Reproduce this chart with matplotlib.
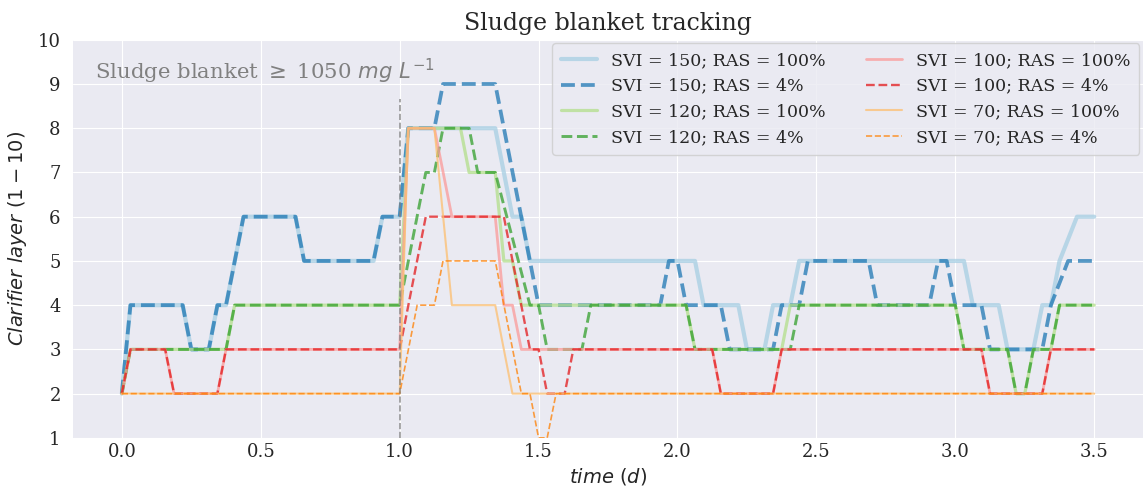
import matplotlib
matplotlib.use("Agg")
import matplotlib.pyplot as plt

# ─── Data (breakpoints, time in days) ───────────────────────────────────────

t_150_100 = [0.0, 0.031, 0.219, 0.25, 0.313, 0.344, 0.375, 0.438, 0.625, 0.656,
             0.906, 0.938, 1.0, 1.031, 1.344, 1.375, 1.406, 1.438, 1.469, 2.063,
             2.094, 2.219, 2.25, 2.313, 2.344, 2.406, 2.438, 3.031, 3.063, 3.156,
             3.188, 3.281, 3.313, 3.344, 3.375, 3.438, 3.5]
v_150_100 = [2, 4, 4, 3, 3, 4, 4, 6, 6, 5, 5, 6, 6, 8, 8, 7, 6, 6, 5, 5,
             4, 4, 3, 3, 4, 4, 5, 5, 4, 4, 3, 3, 4, 4, 5, 6, 6]

t_150_4 = [0.0, 0.031, 0.219, 0.25, 0.313, 0.344, 0.375, 0.438, 0.625, 0.656,
           0.906, 0.938, 1.0, 1.031, 1.125, 1.156, 1.344, 1.5, 1.938, 1.969,
           2.0, 2.031, 2.156, 2.188, 2.344, 2.375, 2.438, 2.469, 2.688, 2.719,
           2.906, 2.938, 2.969, 3.0, 3.094, 3.125, 3.313, 3.344, 3.406, 3.5]
v_150_4 = [2, 4, 4, 3, 3, 4, 4, 6, 6, 5, 5, 6, 6, 8, 8, 9, 9, 4, 4, 5,
           5, 4, 4, 3, 3, 4, 4, 5, 5, 4, 4, 5, 5, 4, 4, 3, 3, 4, 5, 5]

t_120_100 = [0.0, 0.031, 0.375, 0.406, 1.0, 1.031, 1.219, 1.25, 1.344, 1.375,
             1.406, 1.438, 2.031, 2.063, 2.375, 2.406, 3.0, 3.031, 3.188, 3.219,
             3.25, 3.281, 3.344, 3.375, 3.5]
v_120_100 = [2, 3, 3, 4, 4, 8, 8, 7, 7, 5, 5, 4, 4, 3, 3, 4, 4, 3, 3, 2,
             2, 3, 3, 4, 4]

t_120_4 = [0.0, 0.031, 0.375, 0.406, 1.0, 1.094, 1.125, 1.156, 1.25, 1.281,
           1.344, 1.469, 1.5, 1.531, 1.656, 1.688, 2.031, 2.063, 2.406, 2.438,
           3.0, 3.031, 3.188, 3.219, 3.25, 3.281, 3.344, 3.375, 3.5]
v_120_4 = [2, 3, 3, 4, 4, 7, 7, 8, 8, 7, 7, 4, 4, 3, 3, 4, 4, 3, 3, 4,
           4, 3, 3, 2, 2, 3, 3, 4, 4]

t_100_100 = [0.0, 0.031, 0.156, 0.188, 0.344, 0.375, 1.0, 1.031, 1.125, 1.188,
             1.344, 1.375, 1.406, 1.438, 2.125, 2.156, 2.344, 2.375, 3.094, 3.125,
             3.313, 3.344, 3.5]
v_100_100 = [2, 3, 3, 2, 2, 3, 3, 8, 8, 6, 6, 4, 4, 3, 3, 2, 2, 3, 3, 2, 2, 3, 3]

t_100_4 = [0.0, 0.031, 0.156, 0.188, 0.344, 0.375, 1.0, 1.094, 1.375, 1.469,
           1.5, 1.531, 1.594, 1.625, 2.125, 2.156, 2.344, 2.375, 3.094, 3.125,
           3.313, 3.344, 3.5]
v_100_4 = [2, 3, 3, 2, 2, 3, 3, 6, 6, 3, 3, 2, 2, 3, 3, 2, 2, 3, 3, 2, 2, 3, 3]

t_70_100 = [0.0, 1.0, 1.031, 1.125, 1.188, 1.344, 1.406, 3.5]
v_70_100 = [2, 2, 8, 8, 4, 4, 2, 2]

t_70_4 = [0.0, 1.0, 1.063, 1.125, 1.156, 1.344, 1.438, 1.469, 1.5, 1.531, 1.563, 3.5]
v_70_4 = [2, 2, 4, 4, 5, 5, 2, 2, 1, 1, 2, 2]

labels = ["SVI = 150; RAS = 100%", "SVI = 150; RAS = 4%",
          "SVI = 120; RAS = 100%", "SVI = 120; RAS = 4%",
          "SVI = 100; RAS = 100%", "SVI = 100; RAS = 4%",
          "SVI = 70; RAS = 100%", "SVI = 70; RAS = 4%"]

# ─── Style ──────────────────────────────────────────────────────────────────

plt.style.use("seaborn-v0_8-darkgrid")
plt.rcParams["font.family"] = ["DejaVu Serif"]
plt.rcParams["mathtext.fontset"] = "dejavusans"

colors = ["#a6cee3", "#1f78b4", "#b2df8a", "#33a02c",
          "#fb9a99", "#e31a1c", "#fdbf6f", "#ff7f00"]
widths = [3.0, 2.7, 2.3, 2.1, 2.0, 1.7, 1.5, 1.2]
styles = ["-", "--", "-", "--", "-", "--", "-", "--"]

series = [(t_150_100, v_150_100), (t_150_4, v_150_4),
          (t_120_100, v_120_100), (t_120_4, v_120_4),
          (t_100_100, v_100_100), (t_100_4, v_100_4),
          (t_70_100, v_70_100), (t_70_4, v_70_4)]

fig, ax = plt.subplots(figsize=(11.44, 4.97), dpi=100)
fig.subplots_adjust(left=0.064, right=0.999, top=0.92, bottom=0.119)

for (t, v), lab, c, lw, ls in zip(series, labels, colors, widths, styles):
    ax.plot(t, v, ls, color=c, lw=lw, alpha=0.75, label=lab)

ax.axvline(1.0, ymax=0.85, color="gray", ls="--", lw=1.2, alpha=0.8)

ax.set_ylim(1, 10)
ax.set_yticks(range(1, 11))
ax.set_xticks([0, 0.5, 1.0, 1.5, 2.0, 2.5, 3.0, 3.5])
ax.tick_params(labelsize=13, colors="#262626")
ax.tick_params(axis="y", pad=9)
ax.tick_params(axis="x", pad=4)

ax.set_xlabel(r"$time\ (d)$", fontsize=14, labelpad=3)
ax.set_ylabel(r"$Clarifier\ layer\ (1-10)$", fontsize=14, labelpad=6)
ax.set_title("Sludge blanket tracking", fontsize=17, pad=7)

ax.text(0.02, 0.92, r"Sludge blanket $\geq$ 1050 $mg\ L^{-1}$",
        transform=ax.transAxes, color="gray", fontsize=15.3, va="center")

ax.legend(ncol=2, loc="upper right", fontsize=12.5, frameon=True,
          borderaxespad=0.2, borderpad=0.5, labelspacing=0.5,
          handlelength=2.1, columnspacing=2.3)

fig.savefig("out.png", dpi=100)
